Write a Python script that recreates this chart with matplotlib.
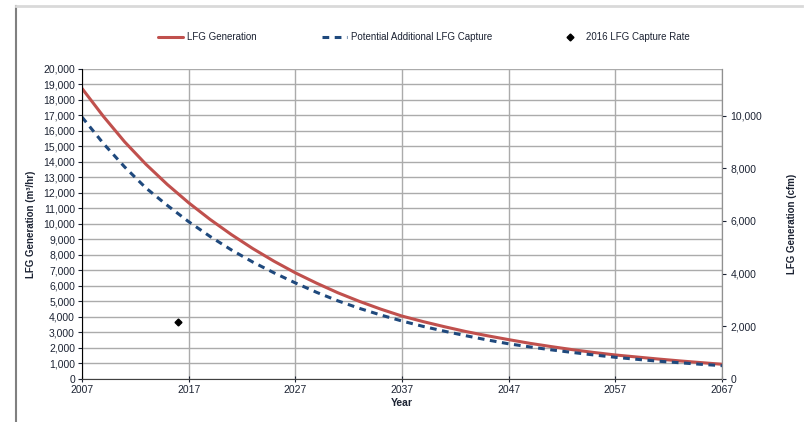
"""LFG generation and capture projection chart."""
import matplotlib.pyplot as plt
from matplotlib.lines import Line2D
from matplotlib.ticker import FuncFormatter, MultipleLocator

plt.rcParams['font.family'] = ['Liberation Sans Narrow', 'Liberation Sans', 'DejaVu Sans']

years = list(range(2007, 2068, 2))
lfg_generation = [18750, 16950, 15300, 13850, 12550, 11370, 10300, 9320, 8420, 7600,
                  6850, 6180, 5560, 5010, 4510, 4060, 3700, 3370, 3060, 2790,
                  2540, 2300, 2090, 1890, 1710, 1550, 1420, 1290, 1170, 1060, 950]
potential_capture = [16900, 15200, 13680, 12320, 11200, 10150, 9200, 8330, 7550, 6850,
                     6200, 5590, 5040, 4560, 4130, 3740, 3390, 3080, 2790, 2520,
                     2270, 2070, 1880, 1710, 1550, 1400, 1270, 1150, 1050, 950, 860]
capture_year = [2016]
capture_rate = [3680]
year_ticks = [2007, 2017, 2027, 2037, 2047, 2057, 2067]

M3HR_TO_CFM = 0.5886
TEXT = "#1c2333"

fig = plt.figure(figsize=(8.06, 4.22), dpi=100)
ax = fig.add_axes([0.1017, 0.1019, 0.7941, 0.7346])

ax.plot(years, lfg_generation, color="#C0504D", lw=2.2, label="LFG Generation",
        solid_capstyle="round", solid_joinstyle="round")
ax.plot(years, potential_capture, color="#1F497D", lw=2.2, ls=(0, (2.2, 1.8)),
        label="Potential Additional LFG Capture")
ax.plot(capture_year, capture_rate, ls="", marker="D", ms=3.5, color="black",
        label="2016 LFG Capture Rate")

ax.set_xlim(2007, 2067)
ax.set_ylim(0, 20000)
ax.set_xticks(year_ticks)
ax.yaxis.set_major_locator(MultipleLocator(1000))
ax.yaxis.set_major_formatter(FuncFormatter(lambda v, p: f"{int(v):,}"))
ax.grid(True, color="#ababab", lw=1.0)
ax.set_axisbelow(True)
ax.tick_params(labelsize=7.5, colors=TEXT, length=3, width=0.8, pad=2)
ax.tick_params(axis="x", direction="inout", length=5)
ax.spines["top"].set_visible(False)
ax.spines["left"].set_color("black")
ax.spines["bottom"].set_color("#404040")
ax.spines["right"].set_color("#909090")
ax.set_xlabel("Year", fontsize=7.5, fontweight="bold", color=TEXT, labelpad=2)
ax.set_ylabel("LFG Generation (m³/hr)", fontsize=7, fontweight="bold", color=TEXT, labelpad=5)

ax2 = ax.twinx()
ax2.set_ylim(0, 20000 * M3HR_TO_CFM)
ax2.yaxis.set_major_locator(MultipleLocator(2000))
ax2.yaxis.set_major_formatter(FuncFormatter(lambda v, p: f"{int(v):,}"))
ax2.tick_params(labelsize=7.5, colors=TEXT, length=3, width=0.8, pad=3)
for side in ["top", "left", "bottom"]:
    ax2.spines[side].set_visible(False)
ax2.spines["right"].set_color("#909090")
ax2.set_ylabel("LFG Generation (cfm)", fontsize=7, fontweight="bold", color=TEXT, labelpad=18)

handles, labels = ax.get_legend_handles_labels()
fig.legend(handles, labels, loc="center", bbox_to_anchor=(0.526, 0.912), ncol=3,
           frameon=False, fontsize=7, handlelength=2.6, columnspacing=6.7,
           handletextpad=0.4, labelcolor=TEXT)

# outer frame lines
fig.add_artist(Line2D([0.02, 0.02], [0.0, 0.985], color="#808080", lw=1.5))
fig.add_artist(Line2D([0.02, 0.995], [0.985, 0.985], color="#d9d9d9", lw=2))

fig.savefig("out.png", dpi=100)
